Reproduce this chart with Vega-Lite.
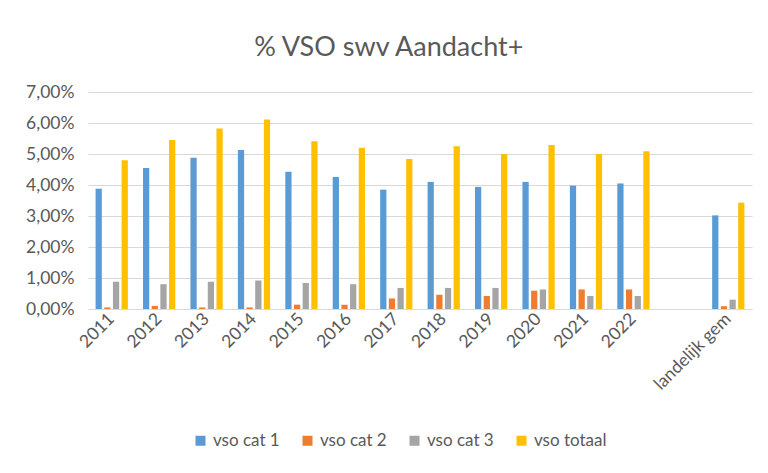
{
  "$schema": "https://vega.github.io/schema/vega-lite/v6.json",
  "width": 664,
  "height": 217,
  "autosize": {"type": "none"},
  "padding": {"left": 88, "top": 92, "right": 16, "bottom": 164},
  "background": "white",
  "config": {
    "font": "Lato",
    "view": {"stroke": null}
  },
  "title": {
    "text": "% VSO swv Aandacht+",
    "fontSize": 27,
    "font": "Lato",
    "fontWeight": "normal",
    "color": "#595959",
    "anchor": "middle",
    "frame": "bounds",
    "offset": 21
  },
  "data": {
    "values": [
      {"jaar": "2011", "reeks": "vso cat 1", "waarde": 0.0388},
      {"jaar": "2011", "reeks": "vso cat 2", "waarde": 0.0005},
      {"jaar": "2011", "reeks": "vso cat 3", "waarde": 0.0088},
      {"jaar": "2011", "reeks": "vso totaal", "waarde": 0.0480},
      {"jaar": "2012", "reeks": "vso cat 1", "waarde": 0.0455},
      {"jaar": "2012", "reeks": "vso cat 2", "waarde": 0.0010},
      {"jaar": "2012", "reeks": "vso cat 3", "waarde": 0.0080},
      {"jaar": "2012", "reeks": "vso totaal", "waarde": 0.0545},
      {"jaar": "2013", "reeks": "vso cat 1", "waarde": 0.0488},
      {"jaar": "2013", "reeks": "vso cat 2", "waarde": 0.0005},
      {"jaar": "2013", "reeks": "vso cat 3", "waarde": 0.0088},
      {"jaar": "2013", "reeks": "vso totaal", "waarde": 0.0582},
      {"jaar": "2014", "reeks": "vso cat 1", "waarde": 0.0513},
      {"jaar": "2014", "reeks": "vso cat 2", "waarde": 0.0005},
      {"jaar": "2014", "reeks": "vso cat 3", "waarde": 0.0092},
      {"jaar": "2014", "reeks": "vso totaal", "waarde": 0.0611},
      {"jaar": "2015", "reeks": "vso cat 1", "waarde": 0.0443},
      {"jaar": "2015", "reeks": "vso cat 2", "waarde": 0.0014},
      {"jaar": "2015", "reeks": "vso cat 3", "waarde": 0.0084},
      {"jaar": "2015", "reeks": "vso totaal", "waarde": 0.0541},
      {"jaar": "2016", "reeks": "vso cat 1", "waarde": 0.0426},
      {"jaar": "2016", "reeks": "vso cat 2", "waarde": 0.0014},
      {"jaar": "2016", "reeks": "vso cat 3", "waarde": 0.0080},
      {"jaar": "2016", "reeks": "vso totaal", "waarde": 0.0520},
      {"jaar": "2017", "reeks": "vso cat 1", "waarde": 0.0385},
      {"jaar": "2017", "reeks": "vso cat 2", "waarde": 0.0034},
      {"jaar": "2017", "reeks": "vso cat 3", "waarde": 0.0068},
      {"jaar": "2017", "reeks": "vso totaal", "waarde": 0.0484},
      {"jaar": "2018", "reeks": "vso cat 1", "waarde": 0.0410},
      {"jaar": "2018", "reeks": "vso cat 2", "waarde": 0.0046},
      {"jaar": "2018", "reeks": "vso cat 3", "waarde": 0.0068},
      {"jaar": "2018", "reeks": "vso totaal", "waarde": 0.0525},
      {"jaar": "2019", "reeks": "vso cat 1", "waarde": 0.0394},
      {"jaar": "2019", "reeks": "vso cat 2", "waarde": 0.0042},
      {"jaar": "2019", "reeks": "vso cat 3", "waarde": 0.0068},
      {"jaar": "2019", "reeks": "vso totaal", "waarde": 0.0500},
      {"jaar": "2020", "reeks": "vso cat 1", "waarde": 0.0410},
      {"jaar": "2020", "reeks": "vso cat 2", "waarde": 0.0059},
      {"jaar": "2020", "reeks": "vso cat 3", "waarde": 0.0063},
      {"jaar": "2020", "reeks": "vso totaal", "waarde": 0.0529},
      {"jaar": "2021", "reeks": "vso cat 1", "waarde": 0.0398},
      {"jaar": "2021", "reeks": "vso cat 2", "waarde": 0.0063},
      {"jaar": "2021", "reeks": "vso cat 3", "waarde": 0.0042},
      {"jaar": "2021", "reeks": "vso totaal", "waarde": 0.0500},
      {"jaar": "2022", "reeks": "vso cat 1", "waarde": 0.0405},
      {"jaar": "2022", "reeks": "vso cat 2", "waarde": 0.0063},
      {"jaar": "2022", "reeks": "vso cat 3", "waarde": 0.0042},
      {"jaar": "2022", "reeks": "vso totaal", "waarde": 0.0509},
      {"jaar": "landelijk gem", "reeks": "vso cat 1", "waarde": 0.0302},
      {"jaar": "landelijk gem", "reeks": "vso cat 2", "waarde": 0.0009},
      {"jaar": "landelijk gem", "reeks": "vso cat 3", "waarde": 0.0030},
      {"jaar": "landelijk gem", "reeks": "vso totaal", "waarde": 0.0343}
    ]
  },
  "mark": {"type": "bar"},
  "encoding": {
    "x": {
      "field": "jaar",
      "type": "nominal",
      "sort": null,
      "scale": {
        "domain": ["2011", "2012", "2013", "2014", "2015", "2016", "2017", "2018", "2019", "2020", "2021", "2022", " ", "landelijk gem"],
        "paddingInner": 0.32,
        "paddingOuter": 0.16
      },
      "axis": {
        "title": null,
        "labelAngle": -45,
        "labelAlign": "right",
        "labelBaseline": "middle",
        "labelFontSize": 17.5,
        "labelColor": "#595959",
        "labelPadding": 7,
        "labelOverlap": false,
        "ticks": false,
        "domainColor": "#D9D9D9",
        "grid": false
      }
    },
    "xOffset": {
      "field": "reeks",
      "type": "nominal",
      "scale": {"paddingInner": 0.28, "paddingOuter": 0}
    },
    "y": {
      "field": "waarde",
      "type": "quantitative",
      "scale": {"domain": [0, 0.07], "nice": false},
      "axis": {
        "title": null,
        "values": [0, 0.01, 0.02, 0.03, 0.04, 0.05, 0.06, 0.07],
        "labelExpr": "replace(format(datum.value, '.2%'), '.', ',')",
        "labelFontSize": 17.5,
        "labelColor": "#595959",
        "labelPadding": 14,
        "ticks": false,
        "domain": false,
        "gridColor": "#D9D9D9",
        "gridWidth": 1
      }
    },
    "color": {
      "field": "reeks",
      "type": "nominal",
      "scale": {
        "domain": ["vso cat 1", "vso cat 2", "vso cat 3", "vso totaal"],
        "range": ["#5B9BD5", "#ED7D31", "#A5A5A5", "#FFC000"]
      },
      "legend": {
        "title": null,
        "orient": "none",
        "direction": "horizontal",
        "legendX": 104,
        "legendY": 340,
        "symbolType": "square",
        "symbolSize": 100,
        "symbolStrokeWidth": 0,
        "labelFontSize": 17,
        "labelColor": "#595959",
        "columnPadding": 19,
        "labelOffset": 4
      }
    }
  }
}
